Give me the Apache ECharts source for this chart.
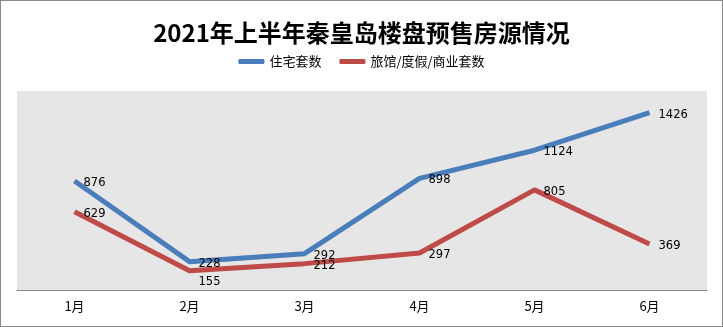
<!DOCTYPE html>
<html><head><meta charset="utf-8">
<script src="https://cdn.jsdelivr.net/npm/echarts@6/dist/echarts.min.js"></script>
<style>html,body{margin:0;padding:0;background:#fff}#c{width:723px;height:327px;box-sizing:border-box;border:1px solid #8a8a8a}</style>
</head><body><div id="c"></div>
<script>
const categories = ['1月','2月','3月','4月','5月','6月'];
const residential = [876, 228, 292, 898, 1124, 1426];
const commercial = [629, 155, 212, 297, 805, 369];
const seriesNames = ['住宅套数', '旅馆/度假/商业套数'];

const chart = echarts.init(document.getElementById('c'));
const labelBase = {show:true, position:'right', distance:9, offset:[0,2], color:'#000', fontSize:11.5, fontFamily:'DejaVu Sans'};
chart.setOption({
  animation:false,
  title:{text:'2021年上半年秦皇岛楼盘预售房源情况', left:'center', top:15,
    textStyle:{fontFamily:'Noto Sans CJK SC', fontWeight:'bold', fontSize:24, color:'#000'}},
  legend:{top:49, left:'center', itemWidth:26, itemHeight:5, itemGap:18, icon:'roundRect',
    textStyle:{fontFamily:'Noto Sans CJK SC', fontSize:13, color:'#000'}},
  grid:{left:16, right:15, top:90, bottom:36, show:true, backgroundColor:'#e6e6e6', borderWidth:0},
  xAxis:{type:'category', data:categories, boundaryGap:true,
    axisLine:{lineStyle:{color:'#868686', width:1}}, axisTick:{show:false},
    axisLabel:{color:'#000', fontSize:13, fontFamily:'Noto Sans CJK SC', margin:10}},
  yAxis:{type:'value', min:0, max:1600, show:false, splitLine:{show:false}},
  series:[
    {name:seriesNames[0], type:'line', data:residential, symbol:'circle', symbolSize:0, showSymbol:true,
      lineStyle:{color:'#4a7ebb', width:5}, itemStyle:{color:'#4a7ebb'},
      label:Object.assign({}, labelBase)},
    {name:seriesNames[1], type:'line', data:commercial.map((v,i)=> i===1 ? {value:v, label:{offset:[0,11]}} : v),
      symbol:'circle', symbolSize:0, showSymbol:true,
      lineStyle:{color:'#be4b48', width:5}, itemStyle:{color:'#be4b48'},
      label:Object.assign({}, labelBase)}
  ]
});
</script></body></html>
